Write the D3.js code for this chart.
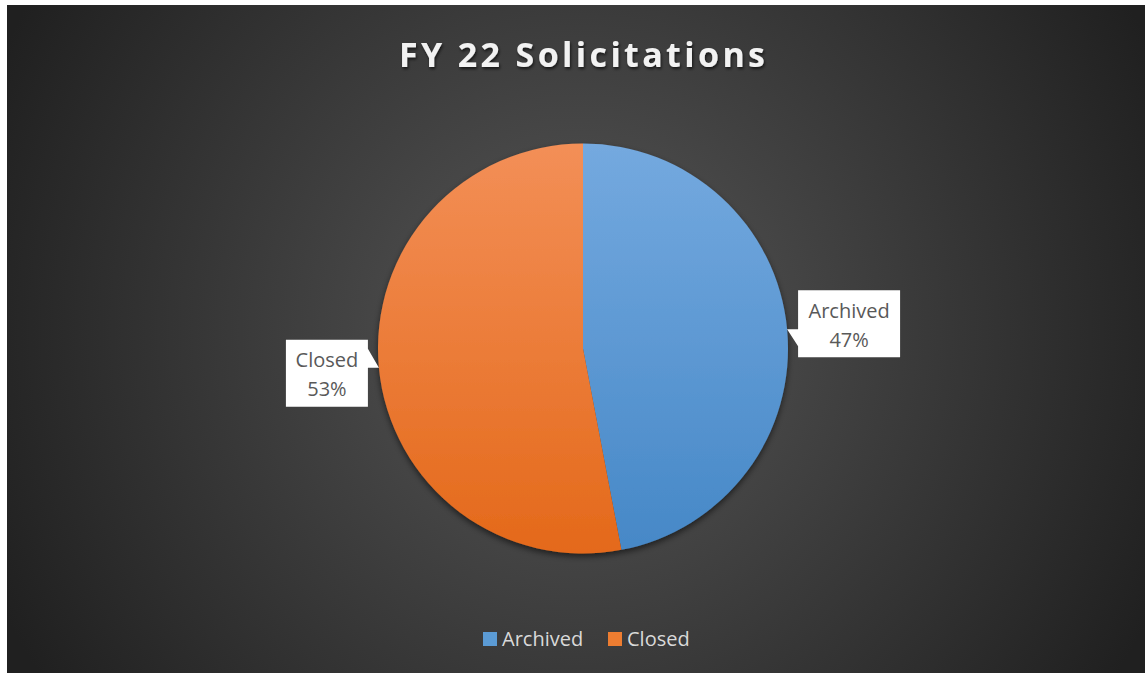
<!DOCTYPE html>
<html>
<head>
<meta charset="utf-8">
<script src="https://cdn.jsdelivr.net/npm/d3@7"></script>
<style>
  html, body { margin: 0; padding: 0; background: #fff; }
  svg { display: block; }
</style>
</head>
<body>
<div class="main"></div>
<script>
const categories = ["Archived", "Closed"];
const values = [47, 53];
const percentLabels = ["47%", "53%"];

const w = 1145;
const h = 673;

// plot area (dark panel) starts a few px in from the top-left
const panel = { x: 7, y: 5 };
const cx = 583;
const cy = 348.5;
const radius = 205;

const colorsTop = ["#74a9df", "#f38f57"];
const colorsBottom = ["#4688c7", "#e4691a"];
const legendColors = ["#5b9bd5", "#ed7d31"];

const svg = d3.select(".main").append("svg").attr("width", w).attr("height", h);
const defs = svg.append("defs");

// background radial gradient
const bg = defs.append("radialGradient")
    .attr("id", "bg")
    .attr("gradientUnits", "userSpaceOnUse")
    .attr("cx", 578).attr("cy", 330).attr("r", 640);
bg.append("stop").attr("offset", "0%").attr("stop-color", "#575757");
bg.append("stop").attr("offset", "100%").attr("stop-color", "#202020");

categories.forEach((c, i) => {
    const g = defs.append("linearGradient")
        .attr("id", "grad" + i)
        .attr("x1", 0).attr("y1", 0).attr("x2", 0).attr("y2", 1);
    g.append("stop").attr("offset", "0%").attr("stop-color", colorsTop[i]);
    g.append("stop").attr("offset", "100%").attr("stop-color", colorsBottom[i]);
});

const titleShadow = defs.append("filter").attr("id", "tshadow")
    .attr("x", "-10%").attr("y", "-30%").attr("width", "120%").attr("height", "160%");
titleShadow.append("feDropShadow")
    .attr("dx", 1).attr("dy", 2).attr("stdDeviation", 1.5)
    .attr("flood-color", "#000").attr("flood-opacity", 0.65);

const pieShadow = defs.append("filter").attr("id", "pshadow")
    .attr("x", "-10%").attr("y", "-10%").attr("width", "120%").attr("height", "120%");
pieShadow.append("feDropShadow")
    .attr("dx", 0).attr("dy", 3).attr("stdDeviation", 3)
    .attr("flood-color", "#000").attr("flood-opacity", 0.55);

svg.append("rect")
    .attr("x", panel.x).attr("y", panel.y)
    .attr("width", w - panel.x).attr("height", h - panel.y)
    .attr("fill", "url(#bg)");

// title
svg.append("text")
    .attr("x", cx - 1).attr("y", 67)
    .attr("text-anchor", "middle")
    .attr("font-family", "'Open Sans', sans-serif")
    .attr("font-weight", "bold")
    .attr("font-size", 34)
    .attr("textLength", 366)
    .attr("lengthAdjust", "spacing")
    .attr("fill", "#f2f2f2")
    .attr("filter", "url(#tshadow)")
    .text("FY 22 Solicitations");

// pie
const pie = d3.pie().sort(null).value((d) => d);
const arcs = pie(values);
const arc = d3.arc().innerRadius(0).outerRadius(radius);

const pieG = svg.append("g")
    .attr("transform", `translate(${cx},${cy})`)
    .attr("filter", "url(#pshadow)");

pieG.selectAll("path")
    .data(arcs)
    .enter()
    .append("path")
    .attr("d", arc)
    .attr("fill", (d, i) => `url(#grad${i})`);

// callout labels
const labelArc = d3.arc().innerRadius(262).outerRadius(262);
const tipArc = d3.arc().innerRadius(radius).outerRadius(radius);
const boxW = [102, 82];
const boxH = 67;
const gap = 11;

const labels = svg.append("g").attr("transform", `translate(${cx},${cy})`);

arcs.forEach((a, i) => {
    const [, ly] = labelArc.centroid(a);
    const [tx, ty] = tipArc.centroid(a);
    const bw = boxW[i];
    const right = tx > 0;
    const x0 = right ? tx + gap : tx - gap - bw;
    const x1 = x0 + bw;
    const lx = x0 + bw / 2;
    const y0 = ly - boxH / 2, y1 = ly + boxH / 2;
    let p;
    if (right) {
        // pointer on left side, base from tip down
        p = `M${x0},${y0}H${x1}V${y1}H${x0}V${ty + 17}L${tx},${ty}H${x0}Z`;
    } else {
        // pointer on right side, base from above down to tip
        p = `M${x0},${y0}H${x1}V${ty - 19}L${tx},${ty}H${x1}V${y1}H${x0}Z`;
    }
    labels.append("path").attr("d", p).attr("fill", "#fff");
    const t = labels.append("text")
        .attr("text-anchor", "middle")
        .attr("font-family", "'Open Sans', sans-serif")
        .attr("font-size", 20)
        .attr("fill", "#595959");
    t.append("tspan").attr("x", lx).attr("y", ly - 6).text(categories[i]);
    t.append("tspan").attr("x", lx).attr("y", ly + 23).text(percentLabels[i]);
});

// legend
const legendX = [483, 608];
const legend = svg.append("g").attr("id", "legend");
categories.forEach((c, i) => {
    legend.append("rect")
        .attr("x", legendX[i]).attr("y", 632)
        .attr("width", 14).attr("height", 14)
        .attr("fill", legendColors[i]);
    legend.append("text")
        .attr("x", legendX[i] + 19).attr("y", 646)
        .attr("font-family", "'Open Sans', sans-serif")
        .attr("font-size", 20)
        .attr("fill", "#d9d9d9")
        .text(c);
});
</script>
</body>
</html>
